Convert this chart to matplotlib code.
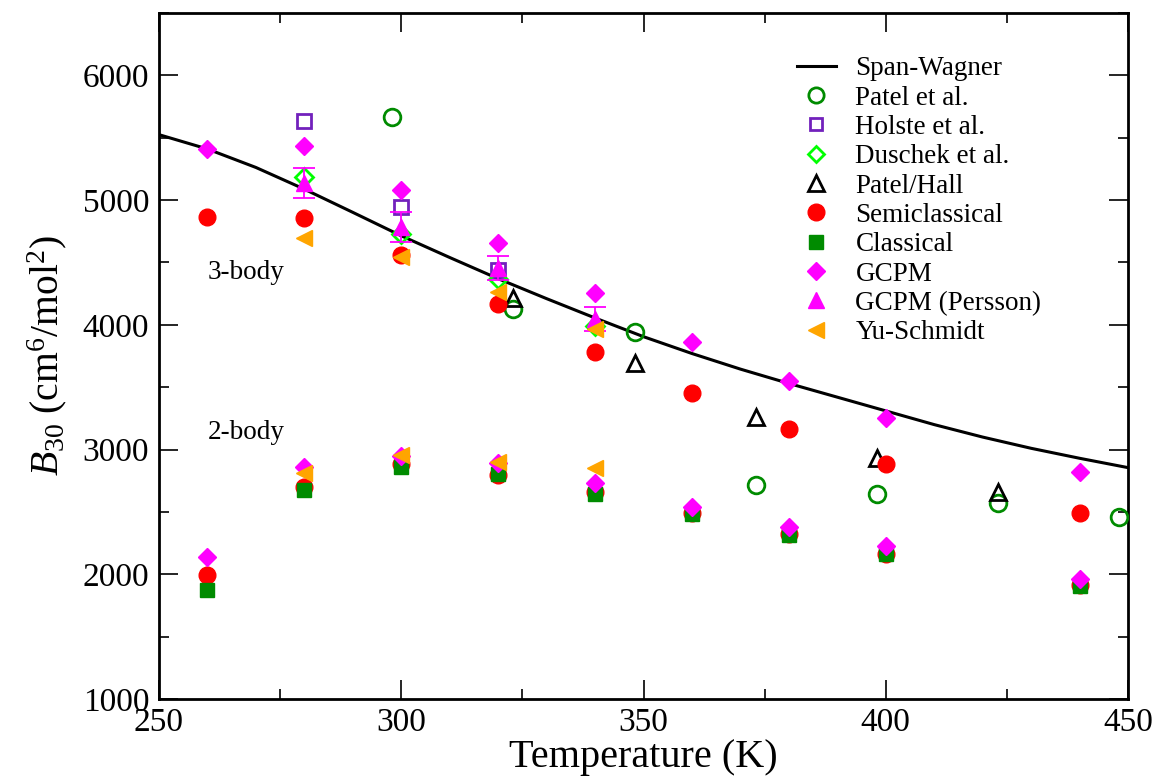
import matplotlib
matplotlib.use("Agg")
import matplotlib.pyplot as plt
from matplotlib.lines import Line2D
from matplotlib.ticker import MultipleLocator

plt.rcParams['font.family'] = ['Liberation Serif', 'DejaVu Serif']
plt.rcParams['mathtext.fontset'] = 'custom'
plt.rcParams['mathtext.rm'] = 'Liberation Serif'
plt.rcParams['mathtext.it'] = 'Liberation Serif:italic'

# Span-Wagner reference curve
sw_T = [250, 260, 270, 280, 290, 300, 310, 320, 330, 340, 350,
        360, 370, 380, 390, 400, 410, 420, 430, 440, 450]
sw_B = [5525, 5410, 5262, 5088, 4902, 4714, 4540, 4370, 4210, 4055, 3905,
        3770, 3645, 3530, 3420, 3310, 3200, 3100, 3010, 2930, 2855]

# experimental data
patel_T = [298.15, 323.15, 348.15, 373.15, 398.15, 423.15, 448.15]
patel_B = [5663, 4131, 3939, 2719, 2647, 2575, 2463]

holste_T = [280, 300, 320]
holste_B = [5631, 4941, 4436]

duschek_T = [280, 300, 320, 340]
duschek_B = [5182, 4725, 4364, 3987]

patelhall_T = [323.15, 348.15, 373.15, 398.15, 423.15]
patelhall_B = [4219, 3698, 3265, 2936, 2663]

# calculations, 3-body (upper) and 2-body (lower)
semi_T = [260, 280, 300, 320, 340, 360, 380, 400, 440]
semi_B3 = [4861, 4858, 4564, 4168, 3786, 3457, 3161, 2888, 2495]
semi_B2 = [1997, 2703, 2885, 2800, 2663, 2495, 2325, 2160, 1910]

class_T = [260, 280, 300, 320, 340, 360, 380, 400, 440]
class_B2 = [1877, 2679, 2864, 2805, 2647, 2482, 2318, 2162, 1905]

gcpm_T = [260, 280, 300, 320, 340, 360, 380, 400, 440]
gcpm_B3 = [5406, 5431, 5078, 4660, 4259, 3866, 3546, 3257, 2824]
gcpm_B2 = [2142, 2864, 2948, 2896, 2735, 2543, 2383, 2225, 1965]

persson_T = [280, 300, 320, 340]
persson_B = [5141, 4788, 4456, 4047]
persson_err = [120, 120, 100, 100]

yu_T = [280, 300, 320, 340]
yu_B3 = [4700, 4540, 4267, 3963]
yu_B2 = [2816, 2960, 2904, 2856]

green = '#008b00'
purple = '#7221bc'
lime = '#00ff00'
red = '#ff0000'
magenta = '#ff00ff'
orange = '#ffa500'

fig = plt.figure(figsize=(11.57, 7.77), dpi=100)
ax = fig.add_axes([0.1374, 0.1004, 0.8376, 0.8828])

ax.plot(sw_T, sw_B, color='black', lw=2.2, zorder=2)

ax.plot(patel_T, patel_B, 'o', ms=12, mfc='none', mec=green, mew=2, zorder=3)
ax.plot(holste_T, holste_B, 's', ms=10, mfc='none', mec=purple, mew=2, zorder=3)
ax.plot(duschek_T, duschek_B, 'D', ms=9, mfc='none', mec=lime, mew=2, zorder=3)
ax.plot(patelhall_T, patelhall_B, '^', ms=12, mfc='none', mec='black', mew=2, zorder=3)
ax.plot(semi_T, semi_B3, 'o', ms=12, color=red, zorder=4)
ax.plot(semi_T, semi_B2, 'o', ms=12, color=red, zorder=4)
ax.plot(class_T, class_B2, 's', ms=10, color=green, zorder=5)
ax.plot(gcpm_T, gcpm_B3, 'D', ms=9, color=magenta, zorder=6)
ax.plot(gcpm_T, gcpm_B2, 'D', ms=9, color=magenta, zorder=6)
ax.errorbar(persson_T, persson_B, yerr=persson_err, fmt='^', ms=11, color=magenta,
            ecolor=magenta, elinewidth=1.3, capsize=8, capthick=1.3, zorder=7)
ax.plot(yu_T, yu_B3, '<', ms=11, color=orange, zorder=8)
ax.plot(yu_T, yu_B2, '<', ms=11, color=orange, zorder=8)

ax.text(260, 4420, '3-body', fontsize=19.5, va='center', ha='left')
ax.text(260, 3135, '2-body', fontsize=19.5, va='center', ha='left')

ax.set_xlim(250, 450)
ax.set_ylim(1000, 6500)
ax.xaxis.set_major_locator(MultipleLocator(50))
ax.xaxis.set_minor_locator(MultipleLocator(25))
ax.yaxis.set_major_locator(MultipleLocator(1000))
ax.yaxis.set_minor_locator(MultipleLocator(500))
ax.tick_params(which='both', direction='in', top=True, right=True, width=1.2)
ax.tick_params(which='major', length=14, labelsize=24)
ax.tick_params(which='minor', length=7)
ax.tick_params(axis='x', pad=6)
ax.tick_params(axis='y', pad=7)
for s in ax.spines.values():
    s.set_linewidth(2)

ax.set_xlabel('Temperature (K)', fontsize=29, labelpad=1)
ax.set_ylabel(r'$B_{30}$ (cm$^6$/mol$^2$)', fontsize=28.5, labelpad=10)

handles = [
    Line2D([], [], color='black', lw=2.2),
    Line2D([], [], ls='', marker='o', ms=11, mfc='none', mec=green, mew=2),
    Line2D([], [], ls='', marker='s', ms=9, mfc='none', mec=purple, mew=2),
    Line2D([], [], ls='', marker='D', ms=8, mfc='none', mec=lime, mew=2),
    Line2D([], [], ls='', marker='^', ms=11, mfc='none', mec='black', mew=2),
    Line2D([], [], ls='', marker='o', ms=12, color=red),
    Line2D([], [], ls='', marker='s', ms=10, color=green),
    Line2D([], [], ls='', marker='D', ms=9, color=magenta),
    Line2D([], [], ls='', marker='^', ms=11, color=magenta),
    Line2D([], [], ls='', marker='<', ms=11, color=orange),
]
labels = ['Span-Wagner', 'Patel et al.', 'Holste et al.', 'Duschek et al.',
          'Patel/Hall', 'Semiclassical', 'Classical', 'GCPM',
          'GCPM (Persson)', 'Yu-Schmidt']
ax.legend(handles, labels, loc='upper left', bbox_to_anchor=(0.658, 0.937),
          frameon=False, fontsize=19.5, borderpad=0, borderaxespad=0,
          handlelength=1.45, handletextpad=0.72, labelspacing=0.16)

fig.savefig('out.png', dpi=100)
